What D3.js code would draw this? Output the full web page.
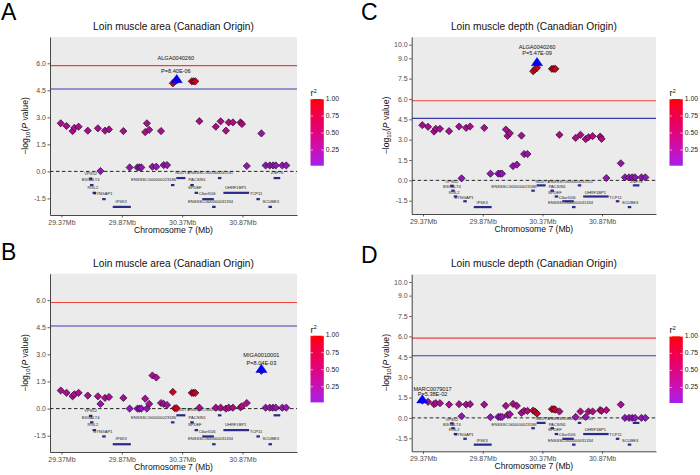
<!DOCTYPE html>
<html><head><meta charset="utf-8">
<script src="https://cdn.jsdelivr.net/npm/d3@7"></script>
<style>body{margin:0;background:#fff;} text{font-family:"Liberation Sans",Arial,sans-serif;}</style>
</head><body>
<script>
// ---------------- DATA ----------------
const snpPos = [29.364,29.412,29.462,29.477,29.512,29.588,29.672,29.693,29.731,29.764,29.883,29.935,30.000,30.017,30.032,30.064,30.078,30.097,30.124,30.156,30.195,30.217,30.245,30.293,30.310,30.325,30.450,30.467,30.479,30.513,30.649,30.689,30.733,30.756,30.791,30.854,30.866,30.906,31.027,31.062,31.096,31.123,31.146,31.200,31.233];

const valA = [2.67,2.52,2.24,2.42,2.48,2.26,2.39,0.02,2.26,2.33,2.24,0.22,0.22,0.22,0.22,2.18,2.67,2.31,0.26,0.26,2.24,0.35,0.35,4.89,5.0,5.06,5.0,5.0,5.0,2.79,2.48,2.78,2.26,2.72,2.72,2.72,2.63,0.3,2.11,0.33,0.33,0.33,0.33,0.33,0.33];
const valB = [1.0,0.87,0.68,0.79,0.87,0.72,0.68,0.26,0.59,0.64,0.59,0.0,0.0,0.0,0.0,0.55,0.0,0.26,1.83,1.72,0.31,0.26,0.2,0.92,0.02,0.02,0.87,0.87,0.87,0.05,0.05,0.05,0.0,0.05,0.05,0.07,0.13,0.31,2.09,0.05,0.05,0.05,0.05,0.05,0.05];
const valC = [4.07,3.95,3.6,3.8,3.8,3.63,3.97,0.15,3.87,3.97,3.87,0.49,0.49,0.49,0.49,3.75,3.28,3.48,1.05,1.16,3.3,1.94,1.94,8.05,8.2,8.3,8.22,8.22,8.22,3.36,3.13,3.36,3.04,3.18,3.26,3.23,3.06,0.17,1.26,0.22,0.22,0.22,0.22,0.22,0.22];
const valD = [1.27,1.18,1.01,1.08,1.08,0.98,1.01,0.12,0.98,1.01,0.98,0.05,0.07,0.07,0.07,0.89,0.22,0.27,1.03,0.89,0.37,0.52,0.52,0.54,0.45,0.32,0.64,0.64,0.6,0.47,0.07,0.47,0.07,0.47,0.47,0.57,0.52,0.57,0.98,0.0,0.0,0.0,0.0,0.0,0.0];

const r2A = [0.28,0.28,0.28,0.28,0.28,0.28,0.28,0.08,0.28,0.28,0.28,0.08,0.08,0.08,0.08,0.28,0.28,0.28,0.1,0.1,0.28,0.12,0.12,0.95,0.95,0.97,0.95,0.95,0.95,0.36,0.36,0.36,0.36,0.36,0.36,0.42,0.42,0.08,0.14,0.06,0.06,0.06,0.06,0.06,0.06];
const r2B = [0.28,0.28,0.28,0.28,0.28,0.28,0.28,0.14,0.28,0.28,0.28,0.06,0.06,0.06,0.06,0.22,0.06,0.22,0.28,0.28,0.22,0.22,0.22,0.92,0.9,0.9,0.92,0.92,0.92,0.32,0.32,0.32,0.32,0.32,0.32,0.38,0.38,0.32,1.0,0.1,0.1,0.1,0.1,0.1,0.1];
const r2C = [0.28,0.28,0.28,0.28,0.28,0.28,0.28,0.08,0.28,0.28,0.28,0.08,0.08,0.08,0.08,0.28,0.28,0.28,0.12,0.12,0.28,0.14,0.14,0.95,0.95,0.97,0.95,0.95,0.95,0.36,0.36,0.36,0.36,0.36,0.36,0.42,0.42,0.08,0.14,0.06,0.06,0.06,0.06,0.06,0.06];
const r2D = [1.0,0.28,0.28,0.28,0.28,0.28,0.28,0.1,0.28,0.28,0.28,0.06,0.06,0.06,0.06,0.28,0.22,0.22,0.32,0.32,0.32,0.32,0.32,0.85,0.88,0.9,0.9,0.9,0.9,0.36,0.1,0.36,0.1,0.36,0.36,0.48,0.48,0.36,0.22,0.06,0.06,0.06,0.06,0.06,0.06];

// lead SNPs, panel order A, B, C, D
const panelKeys = ["A","B","C","D"];
const panelTitles = ["Loin muscle area (Canadian Origin)","Loin muscle area (Canadian Origin)","Loin muscle depth (Canadian Origin)","Loin muscle depth (Canadian Origin)"];
const leadNames = ["ALGA0040260","MIGA0010001","ALGA0040260","MARC0079017"];
const leadPText = ["P=8.40E-06","P=8.04E-03","P=5.47E-09","P=5.38E-02"];
const leadPos = [30.325,31.027,30.325,29.364];
const leadVal = [5.08,2.15,8.66,1.31];
const leadLabelPos = [30.318,31.027,30.325,29.45];
const leadNameY = [6.28,2.94,9.78,2.09];
const leadPY = [5.52,2.52,9.38,1.75];

// genes
const geneNames = ["VPS52","B3GALT4","RGL2","SYNGAP1","IP6K3","ENSSSCG00000023186","NUDT3","PACSIN1","ENSSSCG00000031531","SPDEF","C6orf106","ENSSSCG00000031334","UHRF1BP1","TCP11","ZNF76","SCUBE3"];
const geneStart = [29.604,29.617,29.637,29.717,29.795,30.288,30.322,30.446,30.675,30.483,30.537,30.628,30.712,30.996,31.128,31.095];
const geneEnd   = [29.620,29.625,29.647,29.727,29.945,30.296,30.397,30.458,30.687,30.492,30.633,30.638,30.925,31.004,31.183,31.105];
const geneRow   = [-0.40,-0.76,-1.19,-1.54,-1.97,-0.76,-0.37,-0.76,-0.37,-1.19,-1.54,-1.97,-1.19,-1.54,-0.37,-1.97];
const geneLabelPos = [29.612,29.612,29.631,29.713,29.865,30.133,30.37,30.495,30.606,30.475,30.578,30.606,30.814,30.983,31.156,31.105];

const yTicksArea = [-1.5,0,1.5,3,4.5,6];
const yTicksDepth = [-1.5,0,1.5,3,4.5,6,7.5,9,10];
const xTicks = [29.37,29.87,30.37,30.87];
const legendTicks = [0.25,0.5,0.75,1.0];
const sigThreshold = 5.87;
const sugThreshold = 4.57;

// ---------------- LAYOUT ----------------
const xDomain = [29.275, 31.322];
const layout = [
  {x0:50, x1:297, y0:37, y1:215, yDom:[-2.42,7.46], yTicks:yTicksArea, letterX:1, letterY:20, vals:valA, r2:r2A},
  {x0:50, x1:297, y0:273.7, y1:452, yDom:[-2.4,7.46], yTicks:yTicksArea, letterX:1, letterY:260, vals:valB, r2:r2B},
  {x0:411.7, x1:656, y0:37, y1:214, yDom:[-2.48,10.57], yTicks:yTicksDepth, letterX:361, letterY:19.5, vals:valC, r2:r2C},
  {x0:411.7, x1:656, y0:274.3, y1:451.3, yDom:[-2.46,10.57], yTicks:yTicksDepth, letterX:361, letterY:262.5, vals:valD, r2:r2D}
];

const color = d3.scaleLinear().domain([0,1]).range(["#A020F0","#FF0000"]).interpolate(d3.interpolateLab);

const svg = d3.select("body").append("svg").attr("width",700).attr("height",475);
svg.append("rect").attr("width",700).attr("height",475).attr("fill","#fff");

const defs = svg.append("defs");
const grad = defs.append("linearGradient").attr("id","r2grad").attr("x1",0).attr("y1",1).attr("x2",0).attr("y2",0);
const gMin = 0.02;
d3.range(0,1.0001,0.05).forEach(t=>{
  grad.append("stop").attr("offset",t).attr("stop-color",color(gMin+(1-gMin)*t));
});

const diamond = r => `M0,${-r}L${r},0L0,${r}L${-r},0Z`;
const triangle = "M0,-5.4L5.6,2.8L-5.6,2.8Z";

layout.forEach((p,i)=>{
  const x = d3.scaleLinear().domain(xDomain).range([p.x0,p.x1]);
  const y = d3.scaleLinear().domain(p.yDom).range([p.y1,p.y0]);
  const g = svg.append("g");
  const cid = "clip"+i;
  defs.append("clipPath").attr("id",cid).append("rect")
    .attr("x",p.x0).attr("y",p.y0).attr("width",p.x1-p.x0).attr("height",p.y1-p.y0);

  g.append("rect").attr("x",p.x0).attr("y",p.y0).attr("width",p.x1-p.x0).attr("height",p.y1-p.y0).attr("fill","#EBEBEB");
  const c = g.append("g").attr("clip-path",`url(#${cid})`);

  // threshold lines
  c.append("line").attr("x1",p.x0).attr("x2",p.x1).attr("y1",y(sigThreshold)).attr("y2",y(sigThreshold))
    .attr("stroke","#F0403C").attr("stroke-width",1.1);
  c.append("line").attr("x1",p.x0).attr("x2",p.x1).attr("y1",y(sugThreshold)).attr("y2",y(sugThreshold))
    .attr("stroke","#3C3CB0").attr("stroke-width",1.1);
  c.append("line").attr("x1",p.x0).attr("x2",p.x1).attr("y1",y(0)).attr("y2",y(0))
    .attr("stroke","#111").attr("stroke-width",0.9).attr("stroke-dasharray","3.5,2.5");

  // genes
  geneNames.forEach((nm,k)=>{
    const xs = x(geneStart[k]), xe = x(geneEnd[k]);
    const w = Math.max(xe-xs,3.5);
    const xm = (xs+xe)/2;
    c.append("rect").attr("x",xm-w/2).attr("y",y(geneRow[k])-1.1).attr("width",w).attr("height",2.2)
      .attr("fill","#2A2A8C");
    c.append("text").attr("x",x(geneLabelPos[k])).attr("y",y(geneRow[k]+0.27))
      .attr("text-anchor","middle").attr("dominant-baseline","middle")
      .attr("font-size",4.1).attr("fill","#222").text(nm);
  });

  // SNP points
  snpPos.forEach((pos,k)=>{
    c.append("path").attr("d",diamond(3.6))
      .attr("transform",`translate(${x(pos)},${y(p.vals[k])})`)
      .attr("fill",d3.color(color(p.r2[k])).darker(0.55).formatHex()).attr("stroke","#2a0a22").attr("stroke-width",0.7);
  });

  // lead
  c.append("path").attr("d",triangle).attr("transform",`translate(${x(leadPos[i])},${y(leadVal[i])})`)
    .attr("fill","#0000FF").attr("stroke","#0000CC").attr("stroke-width",0.5);
  c.append("text").attr("x",x(leadLabelPos[i])).attr("y",y(leadNameY[i])).attr("text-anchor","middle")
    .attr("dominant-baseline","middle").attr("font-size",5.6).attr("fill","#111").text(leadNames[i]);
  c.append("text").attr("x",x(leadLabelPos[i])).attr("y",y(leadPY[i])).attr("text-anchor","middle")
    .attr("dominant-baseline","middle").attr("font-size",5.6).attr("fill","#111").text(leadPText[i]);

  // axes
  const ya = g.append("g").attr("transform",`translate(${p.x0},0)`)
    .call(d3.axisLeft(y).tickValues(p.yTicks).tickFormat(d=>d.toFixed(1)).tickSize(2.5).tickSizeOuter(0));
  const xa = g.append("g").attr("transform",`translate(0,${p.y1})`)
    .call(d3.axisBottom(x).tickValues(xTicks).tickFormat(d=>d.toFixed(2)+"Mb").tickSize(2.5).tickSizeOuter(0));
  [ya,xa].forEach(a=>{
    a.select(".domain").attr("stroke","#333").attr("stroke-width",0.9);
    a.selectAll(".tick line").attr("stroke","#333").attr("stroke-width",0.8);
    a.selectAll(".tick text").attr("fill","#4D4D4D").attr("font-size",7).attr("font-family","Liberation Sans, Arial, sans-serif");
  });
  ya.selectAll(".tick text").attr("x",-4);
  xa.selectAll(".tick text").attr("y",5);

  // titles
  const cx = (p.x0+p.x1)/2;
  svg.append("text").attr("x",cx).attr("y",p.y0-7).attr("text-anchor","middle").attr("font-size",10.2).attr("fill","#111").text(panelTitles[i]);
  svg.append("text").attr("x",p.letterX).attr("y",p.letterY).attr("font-size",23).attr("fill","#000").text(panelKeys[i]);
  svg.append("text").attr("x",cx).attr("y",p.y1+17.5).attr("text-anchor","middle").attr("font-size",8.6).attr("fill","#111").text("Chromosome 7 (Mb)");
  const yt = svg.append("text").attr("transform",`translate(${p.x0-22.5},${(p.y0+p.y1)/2}) rotate(-90)`)
    .attr("text-anchor","middle").attr("font-size",8.6).attr("fill","#111");
  yt.append("tspan").text("\u2212log");
  yt.append("tspan").attr("font-size",6).attr("dy",2).text("10");
  yt.append("tspan").attr("dy",-2).text("(");
  yt.append("tspan").attr("font-style","italic").text("P");
  yt.append("tspan").text(" value)");

  // legend
  const lx = p.x1 + 13.5, ly = p.y0 + 62, lw = 13.3, lh = 66.7;
  const lt = svg.append("text").attr("x",lx).attr("y",ly-3).attr("font-size",9).attr("fill","#111");
  lt.append("tspan").text("r");
  lt.append("tspan").attr("font-size",6).attr("dy",-3.5).text("2");
  svg.append("rect").attr("x",lx).attr("y",ly).attr("width",lw).attr("height",lh).attr("fill","url(#r2grad)");
  const ls = d3.scaleLinear().domain([gMin,1]).range([ly+lh,ly]);
  legendTicks.forEach(t=>{
    svg.append("line").attr("x1",lx).attr("x2",lx+2.6).attr("y1",ls(t)).attr("y2",ls(t)).attr("stroke","#fff").attr("stroke-width",0.6);
    svg.append("line").attr("x1",lx+lw-2.6).attr("x2",lx+lw).attr("y1",ls(t)).attr("y2",ls(t)).attr("stroke","#fff").attr("stroke-width",0.6);
    svg.append("text").attr("x",lx+lw+2).attr("y",ls(t)).attr("dominant-baseline","middle").attr("font-size",6.8).attr("fill","#222").text(t.toFixed(2));
  });
});
</script></body></html>
